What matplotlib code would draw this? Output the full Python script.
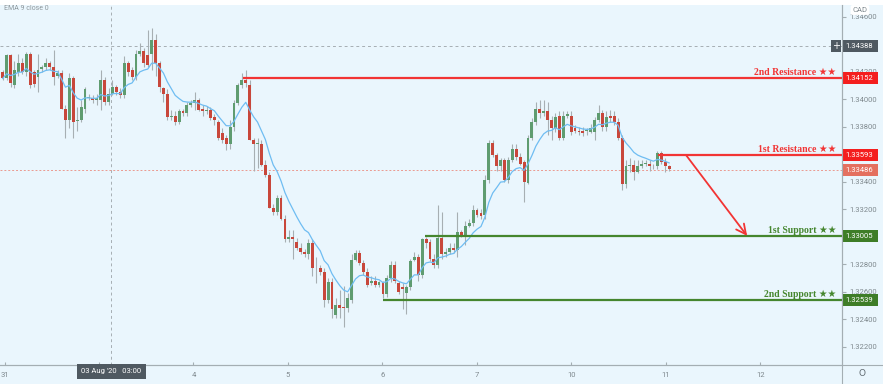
import numpy as np
import pandas as pd
import matplotlib
matplotlib.use("Agg")
import matplotlib.pyplot as plt
import matplotlib.transforms as mtransforms
from matplotlib.patches import Rectangle
from matplotlib.lines import Line2D

# ---------------- data (USDCAD 1H) ----------------
opens = [1.3420,1.3415,1.3432,1.3410,1.3420,1.3426,1.3420,1.3433,1.3420,1.3416,
         1.3422,1.3423,1.3426,1.3423,1.3417,1.3419,1.3393,1.3385,1.3415,1.3384,
         1.3385,1.3393,1.3401,1.3401,1.3399,1.3399,1.3414,1.3398,1.3404,1.3409,
         1.3405,1.3403,1.3426,1.3421,1.3416,1.3433,1.3435,1.3432,1.3433,1.3443,
         1.3426,1.3408,1.3404,1.3387,1.3388,1.3383,1.3391,1.3390,1.3396,1.3397,
         1.3399,1.3393,1.3391,1.3392,1.3387,1.3383,1.3375,1.3372,1.3367,1.3380,
         1.3397,1.3410,1.3414,1.3410,1.3370,1.3367,1.3367,1.3352,1.3345,1.3321,
         1.3318,1.3328,1.3313,1.3298,1.3300,1.3296,1.3292,1.3289,1.3287,1.3295,
         1.3277,1.3277,1.3274,1.3254,1.3267,1.3243,1.3250,1.3249,1.3248,1.3254,
         1.3283,1.3288,1.3281,1.3274,1.3266,1.3268,1.3265,1.3267,1.3258,1.3270,
         1.3279,1.3266,1.3263,1.3259,1.3263,1.3283,1.3285,1.3272,1.3298,1.3296,
         1.3284,1.3279,1.3299,1.3287,1.3289,1.3292,1.3290,1.3303,1.3301,1.3308,
         1.3310,1.3319,1.3317,1.3316,1.3341,1.3368,1.3359,1.3351,1.3356,1.3341,
         1.3356,1.3364,1.3358,1.3354,1.3339,1.3372,1.3383,1.3393,1.3390,1.3391,
         1.3385,1.3379,1.3388,1.3372,1.3388,1.3388,1.3379,1.3377,1.3377,1.3377,
         1.3376,1.3376,1.3385,1.3390,1.3380,1.3388,1.3388,1.3383,1.3372,1.3338,
         1.3351,1.3352,1.3347,1.3351,1.3353,1.3353,1.3351,1.3351,1.3361,1.3354,
         1.3351]
highs = [1.3421,1.3433,1.3433,1.3428,1.3433,1.3430,1.3434,1.3434,1.3421,1.3433,
         1.3425,1.3430,1.3428,1.3436,1.3421,1.3421,1.3396,1.3419,1.3417,1.3394,
         1.3399,1.3409,1.3404,1.3403,1.3404,1.3421,1.3416,1.3408,1.3414,1.3410,
         1.3408,1.3431,1.3428,1.3423,1.3436,1.3441,1.3437,1.3450,1.3452,1.3447,
         1.3428,1.3409,1.3407,1.3392,1.3391,1.3393,1.3393,1.3398,1.3399,1.3405,
         1.3401,1.3396,1.3395,1.3394,1.3389,1.3385,1.3379,1.3374,1.3385,1.3399,
         1.3412,1.3419,1.3421,1.3414,1.3372,1.3372,1.3370,1.3356,1.3347,1.3324,
         1.3330,1.3330,1.3316,1.3305,1.3305,1.3299,1.3295,1.3291,1.3298,1.3298,
         1.3285,1.3279,1.3277,1.3270,1.3270,1.3255,1.3261,1.3264,1.3259,1.3287,
         1.3290,1.3290,1.3283,1.3277,1.3271,1.3271,1.3268,1.3268,1.3272,1.3282,
         1.3282,1.3268,1.3266,1.3265,1.3284,1.3289,1.3287,1.3299,1.3300,1.3298,
         1.3287,1.3323,1.3318,1.3292,1.3295,1.3295,1.3318,1.3305,1.3311,1.3313,
         1.3323,1.3321,1.3320,1.3345,1.3370,1.3370,1.3361,1.3357,1.3357,1.3358,
         1.3367,1.3367,1.3361,1.3356,1.3374,1.3386,1.3398,1.3399,1.3399,1.3398,
         1.3388,1.3390,1.3391,1.3391,1.3391,1.3391,1.3381,1.3380,1.3380,1.3379,
         1.3382,1.3387,1.3396,1.3392,1.3391,1.3392,1.3391,1.3386,1.3374,1.3356,
         1.3357,1.3356,1.3356,1.3356,1.3356,1.3356,1.3353,1.3362,1.3362,1.3357,
         1.3352]
lows = [1.3414,1.3414,1.3409,1.3408,1.3417,1.3418,1.3417,1.3408,1.3409,1.3405,
        1.3420,1.3421,1.3421,1.3410,1.3415,1.3393,1.3372,1.3379,1.3372,1.3377,
        1.3383,1.3390,1.3399,1.3397,1.3396,1.3392,1.3396,1.3396,1.3403,1.3403,
        1.3401,1.3401,1.3417,1.3414,1.3414,1.3431,1.3423,1.3423,1.3421,1.3417,
        1.3405,1.3398,1.3385,1.3385,1.3381,1.3382,1.3388,1.3388,1.3394,1.3392,
        1.3391,1.3388,1.3389,1.3385,1.3381,1.3370,1.3368,1.3363,1.3364,1.3377,
        1.3396,1.3408,1.3409,1.3370,1.3348,1.3350,1.3351,1.3343,1.3321,1.3316,
        1.3316,1.3312,1.3296,1.3296,1.3284,1.3290,1.3287,1.3285,1.3284,1.3271,
        1.3266,1.3272,1.3249,1.3252,1.3241,1.3241,1.3241,1.3234,1.3245,1.3252,
        1.3282,1.3279,1.3272,1.3263,1.3265,1.3263,1.3263,1.3255,1.3256,1.3267,
        1.3266,1.3258,1.3247,1.3244,1.3261,1.3282,1.3268,1.3270,1.3292,1.3282,
        1.3277,1.3277,1.3284,1.3285,1.3287,1.3288,1.3285,1.3300,1.3294,1.3307,
        1.3308,1.3314,1.3313,1.3313,1.3339,1.3358,1.3348,1.3348,1.3340,1.3339,
        1.3354,1.3356,1.3352,1.3325,1.3338,1.3370,1.3381,1.3386,1.3388,1.3374,
        1.3370,1.3376,1.3370,1.3370,1.3386,1.3374,1.3375,1.3374,1.3373,1.3374,
        1.3375,1.3370,1.3383,1.3377,1.3377,1.3383,1.3381,1.3370,1.3334,1.3335,
        1.3347,1.3341,1.3346,1.3350,1.3351,1.3348,1.3349,1.3349,1.3353,1.3347,
        1.3348]
closes = [1.3415,1.3432,1.3412,1.3421,1.3426,1.3420,1.3433,1.3410,1.3411,1.3421,
          1.3423,1.3426,1.3423,1.3416,1.3419,1.3393,1.3385,1.3415,1.3383,1.3385,
          1.3394,1.3407,1.3401,1.3399,1.3401,1.3414,1.3398,1.3404,1.3409,1.3405,
          1.3403,1.3426,1.3420,1.3416,1.3433,1.3435,1.3426,1.3425,1.3443,1.3426,
          1.3409,1.3404,1.3387,1.3388,1.3383,1.3391,1.3390,1.3396,1.3397,1.3399,
          1.3392,1.3391,1.3392,1.3386,1.3385,1.3372,1.3370,1.3367,1.3380,1.3397,
          1.3410,1.3414,1.3412,1.3370,1.3367,1.3368,1.3352,1.3345,1.3321,1.3318,
          1.3328,1.3313,1.3298,1.3300,1.3298,1.3292,1.3289,1.3287,1.3295,1.3277,
          1.3277,1.3274,1.3254,1.3267,1.3247,1.3250,1.3248,1.3248,1.3255,1.3283,
          1.3288,1.3281,1.3274,1.3265,1.3268,1.3265,1.3267,1.3258,1.3270,1.3279,
          1.3268,1.3260,1.3262,1.3263,1.3282,1.3285,1.3272,1.3298,1.3295,1.3284,
          1.3279,1.3299,1.3287,1.3289,1.3292,1.3290,1.3303,1.3301,1.3308,1.3310,
          1.3319,1.3316,1.3315,1.3341,1.3368,1.3359,1.3351,1.3356,1.3341,1.3356,
          1.3364,1.3358,1.3353,1.3340,1.3372,1.3383,1.3393,1.3390,1.3391,1.3385,
          1.3379,1.3387,1.3372,1.3388,1.3389,1.3376,1.3377,1.3376,1.3375,1.3377,
          1.3379,1.3385,1.3390,1.3380,1.3387,1.3386,1.3383,1.3372,1.3338,1.3351,
          1.3352,1.3347,1.3351,1.3353,1.3353,1.3351,1.3351,1.3361,1.3354,1.3351,
          1.3349]

day_labels = ["31", "3", "4", "5", "6", "7", "10", "11", "12"]
hidden_days = ["3"]                    # covered by the crosshair date box
price_ticks = [1.322, 1.324, 1.326, 1.328, 1.330, 1.332, 1.334,
               1.336, 1.338, 1.340, 1.342, 1.344, 1.346]
hidden_ticks = [1.330, 1.336, 1.344]   # covered by the level boxes

res2, res1 = 1.34152, 1.33593
sup1, sup2 = 1.33005, 1.32539
last_price = 1.33486
cross_price = 1.34388
cross_label = "03 Aug '20   03:00"

# ---------------- style ----------------
BG = "#EAF6FD"
GREEN_C = "#5f9c70"
RED_C = "#c8473b"
WICK = "#a7afb3"
RES_C = "#f23434"
SUP_C = "#45862e"
AXC = "#a4aeb3"
TXT = "#7f898e"

W, H = 883, 384
fig = plt.figure(figsize=(W / 100, H / 100), dpi=100, facecolor=BG)
ax = fig.add_axes([0, 19 / H, 842 / W, 360 / H])
ax.set_facecolor(BG)

o = np.array(opens); h = np.array(highs); l = np.array(lows); c = np.array(closes)
x = np.arange(len(c))
up = c >= o

# EMA 9 close
ema = pd.Series(c).ewm(span=9, adjust=False).mean().values
ax.plot(x, ema, color="#6fbdf2", lw=0.9, zorder=4)

ax.vlines(x, l, h, color=WICK, lw=0.8, zorder=2)
bottoms = np.minimum(o, c)
heights = np.maximum(np.abs(c - o), 0.00004)
ax.bar(x[up], heights[up], bottom=bottoms[up], width=0.74, color=GREEN_C, zorder=3, linewidth=0)
ax.bar(x[~up], heights[~up], bottom=bottoms[~up], width=0.74, color=RED_C, zorder=3, linewidth=0)

xmin, xmax = -0.69, 214.1
ax.set_xlim(xmin, xmax)
ax.set_ylim(1.32066, 1.34684)

# day ticks
day_pos = [0.46 + 24.1 * k for k in range(len(day_labels))]
ax.set_xticks(day_pos)
ax.set_xticklabels(["" if d in hidden_days else d for d in day_labels])
ax.tick_params(axis="x", direction="in", length=2, color=AXC, labelsize=5.5,
               labelcolor=TXT, pad=5)

ax.yaxis.tick_right()
ax.set_yticks(price_ticks)
ax.set_yticklabels(["" if v in hidden_ticks else f"{v:.5f}" for v in price_ticks])
ax.tick_params(axis="y", direction="out", length=3, color=AXC, labelsize=5.5,
               labelcolor=TXT, pad=2)
for lab in ax.get_yticklabels() + ax.get_xticklabels():
    lab.set_family("Roboto")

for s in ["top", "left"]:
    ax.spines[s].set_visible(False)
ax.spines["bottom"].set_color(AXC)
ax.spines["right"].set_color(AXC)
ax.spines["bottom"].set_linewidth(0.8)
ax.spines["right"].set_linewidth(0.8)

# separators extending into the margins
fig.add_artist(Line2D([0, 1], [19 / H, 19 / H], color=AXC, lw=0.8))
fig.add_artist(Line2D([842 / W, 842 / W], [0, 1 - 5 / H], color=AXC, lw=0.8))
fig.add_artist(Rectangle((0, 1 - 5 / H), 1, 5 / H, transform=fig.transFigure,
                         facecolor="white", edgecolor="none"))

# crosshair and last price line
ax.axhline(cross_price, color="#a6aeb3", lw=0.7, ls=(0, (3, 3)), zorder=1)
ax.axvline(day_pos[1] + 3, color="#a6aeb3", lw=0.7, ls=(0, (3, 3)), zorder=1)
ax.axhline(last_price, color="#eb9a90", lw=0.7, ls=(0, (2, 2)), zorder=1)

# levels
ax.hlines([res2], 61.3, xmax, color=RES_C, lw=1.6, zorder=5)
ax.hlines([res1], 167.2, xmax, color=RES_C, lw=1.6, zorder=5)
ax.hlines([sup1], 107.7, xmax, color=SUP_C, lw=1.6, zorder=5)
ax.hlines([sup2], 97.0, xmax, color=SUP_C, lw=1.6, zorder=5)

ax.annotate("", xy=(189.9, sup1), xytext=(174.3, res1),
            arrowprops=dict(arrowstyle="->,head_length=0.7,head_width=0.35",
                            color=RES_C, lw=1.3, shrinkA=0, shrinkB=0), zorder=6)

lab_x = 212.6
dy = 0.00022
fam = ["Liberation Serif", "DejaVu Sans"]
for txt, lvl, col in [("2nd Resistance \u2605\u2605", res2, RES_C),
                      ("1st Resistance \u2605\u2605", res1, RES_C),
                      ("1st Support \u2605\u2605", sup1, SUP_C),
                      ("2nd Support \u2605\u2605", sup2, SUP_C)]:
    ax.text(lab_x, lvl + dy, txt, color=col, fontsize=7, fontweight="bold",
            family=fam, ha="right", va="baseline", zorder=7)

# price boxes on the right axis
blend = mtransforms.blended_transform_factory(fig.transFigure, ax.transData)
box_h = 12 * 0.0000727
for lvl, col in [(cross_price, "#4f5961"), (res2, "#f41e1e"), (res1, "#f41e1e"),
                 (last_price, "#e4705f"), (sup1, "#3e7d27"), (sup2, "#3e7d27")]:
    ax.add_patch(Rectangle((842 / W, lvl - box_h / 2), 36 / W, box_h, transform=blend,
                           facecolor=col, edgecolor="none", clip_on=False, zorder=8))
    ax.text(845 / W, lvl, f"{lvl:.5f}", transform=blend, color="white", fontsize=5.5,
            family="Roboto", ha="left", va="center", clip_on=False, zorder=9)
# crosshair "+" button
ax.add_patch(Rectangle((831 / W, cross_price - box_h / 2), 10 / W, box_h, transform=blend,
                       facecolor="#4f5961", edgecolor="none", clip_on=False, zorder=8))
ax.text(836 / W, cross_price, "+", transform=blend, color="white", fontsize=7,
        ha="center", va="center", clip_on=False, zorder=9)

# crosshair date box on the x axis
fig.add_artist(Rectangle((77 / W, 5 / H), 69 / W, 15 / H, transform=fig.transFigure,
                         facecolor="#4f5961", edgecolor="none", zorder=8))
fig.text(111.5 / W, 12.5 / H, cross_label, color="white", fontsize=5.5, family="Roboto",
         ha="center", va="center", zorder=9)

# texts
fig.text(4 / W, 1 - 9 / H, "EMA 9 close 0", color="#8d979c", fontsize=5, family="Roboto",
         ha="left", va="center")
fig.text(860 / W, 1 - 10 / H, "CAD", color="#7f898e", fontsize=5.5, family="Roboto",
         ha="center", va="center", zorder=9,
         bbox=dict(boxstyle="round,pad=0.25", facecolor="white", edgecolor="none"))
fig.text(862 / W, 10 / H, "O", color="#5f6a70", fontsize=6.5, ha="center", va="center")

fig.savefig("out.png", dpi=100, facecolor=BG)
